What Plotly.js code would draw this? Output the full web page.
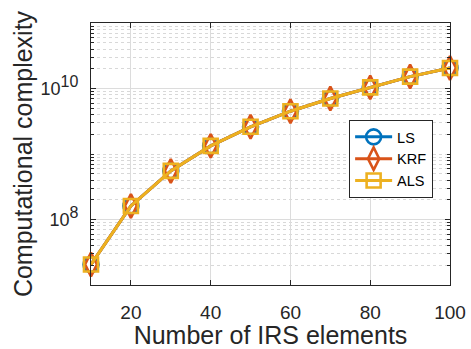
<!DOCTYPE html>
<html>
<head>
<meta charset="utf-8">
<script src="https://cdn.plot.ly/plotly-3.0.1.min.js"></script>
<style>html,body{margin:0;padding:0;background:#fff;}#chart{width:471px;height:349px;}</style>
</head>
<body>
<div id="chart"></div>
<script>
const irsElements = [10, 20, 30, 40, 50, 60, 70, 80, 90, 100];
const lsComplexity  = [2.06e7, 1.61e8, 5.52e8, 1.33e9, 2.60e9, 4.50e9, 7.03e9, 1.04e10, 1.52e10, 2.06e10];
const krfComplexity = [2.06e7, 1.61e8, 5.52e8, 1.33e9, 2.60e9, 4.50e9, 7.03e9, 1.04e10, 1.52e10, 2.06e10];
const alsComplexity = [2.06e7, 1.61e8, 5.52e8, 1.33e9, 2.60e9, 4.50e9, 7.03e9, 1.04e10, 1.52e10, 2.06e10];
const seriesNames = ['LS', 'KRF', 'ALS'];
const xTickVals = [20, 40, 60, 80, 100];
const yTickVals = [1e8, 1e10];
const yTickText = ['10<sup><span style="font-size:16px">8</span></sup>', '10<sup><span style="font-size:16px">10</span></sup>'];

const minorVals = [];
for (let e = 7; e <= 10; e++) {
  for (let m = 1; m <= 9; m++) {
    const v = m * Math.pow(10, e);
    if (v !== 1e8 && v !== 1e10) minorVals.push(v);
  }
}
minorVals.push(1e11);

const colors = ['#0072BD', '#D95319', '#EDB120'];
const symbols = ['circle-open', 'diamond-tall-open', 'square-open'];
const sizes = [15, 17, 14];
const ys = [lsComplexity, krfComplexity, alsComplexity];

const traces = seriesNames.map((name, i) => ({
  x: irsElements, y: ys[i], name: name, type: 'scatter', mode: 'lines+markers',
  cliponaxis: false,
  line: {color: colors[i], width: 3},
  marker: {symbol: symbols[i], size: sizes[i], color: colors[i], line: {color: colors[i], width: 2.6}}
}));

const axColor = '#262626';
const layout = {
  width: 471, height: 349,
  margin: {l: 91, r: 21, t: 23, b: 64},
  paper_bgcolor: '#fff', plot_bgcolor: '#fff',
  font: {family: 'Liberation Sans, Arial, sans-serif', color: axColor},
  showlegend: true,
  xaxis: {
    range: [10, 100], tickvals: xTickVals, ticks: 'inside', ticklen: 5, tickcolor: axColor,
    showline: true, linecolor: axColor, linewidth: 1, mirror: 'ticks',
    showgrid: true, gridcolor: '#dcdcdc', gridwidth: 1, zeroline: false,
    tickfont: {size: 19, color: axColor}, ticklabelstandoff: 10,
    title: {text: 'Number of IRS elements', font: {size: 25, color: axColor}, standoff: 15}
  },
  yaxis: {
    type: 'log', range: [7, 11], tickmode: 'array', tickvals: yTickVals, ticktext: yTickText,
    ticks: 'inside', ticklen: 5, tickcolor: axColor,
    showline: true, linecolor: axColor, linewidth: 1, mirror: 'ticks',
    showgrid: true, gridcolor: '#dcdcdc', gridwidth: 1, zeroline: false,
    tickfont: {size: 18, color: axColor}, ticklabelstandoff: 8,
    minor: {tickmode: 'array', tickvals: minorVals, ticks: 'inside', ticklen: 3, tickcolor: axColor,
            showgrid: true, gridcolor: '#d8d8d8', griddash: 'dot', gridwidth: 1},
    title: {text: 'Computational complexity', font: {size: 25, color: axColor}, standoff: 0}
  },
  legend: {
    x: 0.719, y: 0.63, xanchor: 'left', yanchor: 'top',
    bgcolor: '#fff', bordercolor: axColor, borderwidth: 1,
    font: {size: 14.5, color: '#000'}, itemwidth: 37, tracegroupgap: 0
  }
};

Plotly.newPlot('chart', traces, layout, {staticPlot: true, displayModeBar: false});
</script>
</body>
</html>
